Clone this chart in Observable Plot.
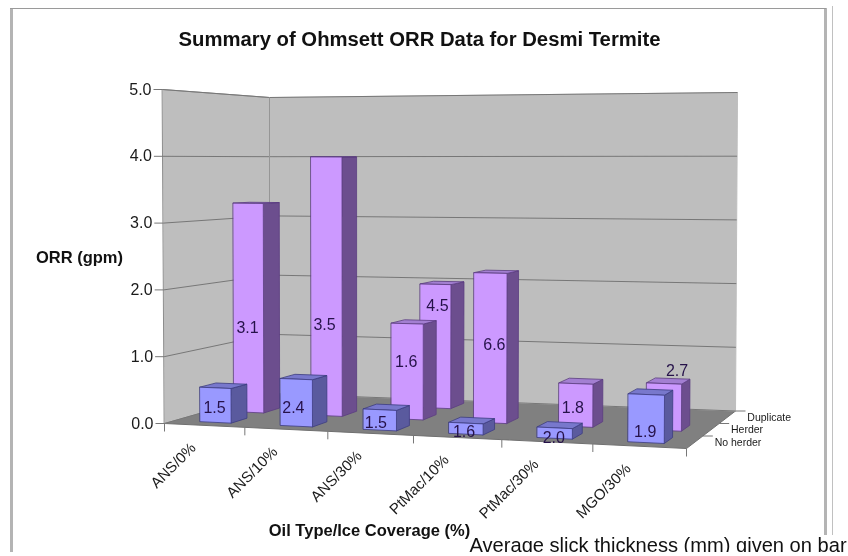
<!DOCTYPE html>
<html><head><meta charset="utf-8">
<style>html,body{margin:0;padding:0;background:#fff}svg{display:block}</style>
<script src="https://cdn.jsdelivr.net/npm/d3@7"></script>
<script src="https://cdn.jsdelivr.net/npm/@observablehq/plot@0.6"></script>
</head><body><div id="chart"></div>
<script>
// ---- data ----
const categories = ["ANS/0%", "ANS/10%", "ANS/30%", "PtMac/10%", "PtMac/30%", "MGO/30%"];
const seriesNames = ["No herder", "Herder", "Duplicate"];
const noHerder = [0.52, 0.70, 0.30, 0.16, 0.15, 0.68];
const herder = [3.27, 4.0, 1.46, 2.26, 0.64, 0.69];
const duplicate = [null, null, 1.97, null, null, null];
const thicknessNoHerder = ["1.5", "2.4", "1.5", "1.6", "2.0", "1.9"];
const thicknessHerder = ["3.1", "3.5", "1.6", "6.6", "1.8", "2.7"];
const thicknessDuplicate = [null, null, "4.5", null, null, null];
const yTicks = [0, 1, 2, 3, 4, 5];

// ---- layout of the perspective box (corners of floor and ceiling in page units) ----
const floorC = {FL:[164,423], FR:[686,448], BL:[269,393], BR:[735,410.5]};
const topC   = {FL:[162,89],  FR:[688,88],  BL:[269,97],  BR:[737,92]};
const zMax = 5, warp = 0.908;
const barU = [0.32, 0.71];
const rowD = [[0.10,0.26],[0.43,0.59],[0.77,0.93]];
const palette = [
  {front:"#9999ff", side:"#5a5a9e", top:"#7878cc", edge:"#3c3c80"},
  {front:"#cc99ff", side:"#6c4e8e", top:"#a37fd2", edge:"#5a3c80"},
  {front:"#cc99ff", side:"#6c4e8e", top:"#a37fd2", edge:"#5a3c80"}
];
// label nudges [dx, dy] by series-category
const nudge = {
  "0-0":[-1,3],"0-1":[-3,5],"0-2":[-4,3],"0-3":[-2,3],"0-4":[-1,5],"0-5":[-1,13],
  "1-0":[-1,20],"1-1":[-2,39],"1-2":[-1,-10],"1-3":[4,-3],"1-4":[-3,3],"1-5":[13,-36],
  "2-2":[2,-40]
};

const lerp = (a, b, t) => a + (b - a) * t;
const lerp2 = (a, b, t) => [lerp(a[0], b[0], t), lerp(a[1], b[1], t)];
function project(u, d, z) {
  const w = u * (warp + (1 - warp) * u);
  const q = c => lerp2(lerp2(c.FL, c.FR, w), lerp2(c.BL, c.BR, w), d);
  return lerp2(q(floorC), q(topC), z / zMax);
}
const n = categories.length;
const slot = (i, f) => (i + f) / n;

// ---- build polygons from the data ----
const faces = [];
function face(id, fill, stroke, corners) {
  corners.forEach(p => faces.push({id, fill, stroke, x: p[0], y: p[1]}));
}
face("floor", "#808080", "#707070", [project(0,0,0), project(1,0,0), project(1,1,0), project(0,1,0)]);
face("wallL", "#bebebe", "#8c8c8c", [project(0,0,0), project(0,1,0), project(0,1,zMax), project(0,0,zMax)]);
face("wallB", "#bebebe", "#bebebe", [project(0,1,0), project(1,1,0), project(1,1,zMax), project(0,1,zMax)]);

const grid = [];
yTicks.forEach(v => {
  [[0,0,0,1],[0,1,1,1]].forEach(([u1,d1,u2,d2]) => {
    const a = project(u1,d1,v), b = project(u2,d2,v);
    grid.push({x1:a[0], y1:a[1], x2:b[0], y2:b[1]});
  });
});
const cornerA = project(0,1,0), cornerB = project(0,1,zMax);

const seriesValues = [noHerder, herder, duplicate];
const seriesLabels = [thicknessNoHerder, thicknessHerder, thicknessDuplicate];
const labels = [];
[2,1,0].forEach(s => {
  seriesValues[s].forEach((v, i) => {
    if (v == null) return;
    const u0 = slot(i, barU[0]), u1 = slot(i, barU[1]);
    const [d0, d1] = rowD[s], c = palette[s], id = `b${s}-${i}-`;
    face(id+"r", c.side, c.edge, [project(u1,d0,0), project(u1,d1,0), project(u1,d1,v), project(u1,d0,v)]);
    face(id+"t", c.top, c.edge, [project(u0,d0,v), project(u1,d0,v), project(u1,d1,v), project(u0,d1,v)]);
    face(id+"f", c.front, c.edge, [project(u0,d0,0), project(u1,d0,0), project(u1,d0,v), project(u0,d0,v)]);
    const m = project(slot(i,(barU[0]+barU[1])/2), d0, v/2), nd = nudge[`${s}-${i}`];
    labels.push({x:m[0]+nd[0], y:m[1]+nd[1], text:seriesLabels[s][i]});
  });
});

const yTickData = yTicks.map(v => { const p = project(0,0,v); return {x:p[0], y:p[1], v}; });
const xTickData = d3.range(n+1).map(i => { const p = project(i/n,0,0); return {x:p[0], y:p[1]}; });
const catData = categories.map((c,i) => { const p = project((i+.5)/n,0,0); return {x:p[0]-11, y:p[1]+20, c}; });
const depthTicks = d3.range(1,4).map(i => { const p = project(1,i/3,0); return {x:p[0], y:p[1]}; });
const depthData = seriesNames.map((s,i) => { const p = project(1,(i+.5)/3,0); return {x:p[0]+20, y:p[1], s}; });

const F = "Liberation Sans";
const T = "#1a1a1a";
const plot = Plot.plot({
  width:848, height:556, margin:0,
  x:{domain:[0,848], range:[0,848], axis:null},
  y:{domain:[0,556], range:[0,556], axis:null},
  color:{type:"identity"},
  style:{background:"#fff", fontFamily:F, filter:"blur(0.4px)"},
  marks:[
    Plot.ruleX([11], {y1:8, y2:556, stroke:"#b4b4b4", strokeWidth:3}),
    Plot.ruleX([825], {y1:8, y2:535, stroke:"#b4b4b4", strokeWidth:3}),
    Plot.ruleX([832], {y1:6, y2:535, stroke:"#c0c0c0", strokeWidth:1}),
    Plot.ruleY([8], {x1:10, x2:826, stroke:"#9a9a9a", strokeWidth:1}),
    Plot.line(faces.slice(0,12), {x:"x", y:"y", z:"id", fill:"fill", stroke:"stroke", strokeWidth:1, curve:"linear-closed"}),
    Plot.link(grid, {x1:"x1", y1:"y1", x2:"x2", y2:"y2", stroke:"#777", strokeWidth:1}),
    Plot.link([{}], {x1:()=>cornerA[0], y1:()=>cornerA[1], x2:()=>cornerB[0], y2:()=>cornerB[1], stroke:"#969696", strokeWidth:1}),
    Plot.line(faces.slice(12), {x:"x", y:"y", z:"id", fill:"fill", stroke:"stroke", strokeWidth:0.8, curve:"linear-closed"}),
    Plot.link(xTickData, {x1:"x", x2:"x", y1:"y", y2:d=>d.y+8, stroke:"#777"}),
    Plot.link(yTickData, {x1:d=>d.x-9, x2:"x", y1:"y", y2:"y", stroke:"#777"}),
    Plot.link(depthTicks, {x1:"x", x2:d=>d.x+10, y1:"y", y2:"y", stroke:"#777"}),
    Plot.text(yTickData, {x:d=>d.x-11, y:"y", text:d=>d.v.toFixed(1), textAnchor:"end", fontSize:16, fill:T}),
    Plot.text(catData, {x:"x", y:"y", text:"c", rotate:-45, textAnchor:"end", fontSize:15, fill:T}),
    Plot.text(depthData, {x:"x", y:"y", text:"s", textAnchor:"start", fontSize:10.5, fill:T}),
    Plot.text(labels, {x:"x", y:"y", text:"text", fontSize:16, fill:"#26124a"}),
    Plot.text(["Summary of Ohmsett ORR Data for Desmi Termite"], {x:()=>419, y:()=>39, text:d=>d, fontSize:20.3, fontWeight:"bold", fill:"#111"}),
    Plot.text(["ORR (gpm)"], {x:()=>79, y:()=>257, text:d=>d, fontSize:16.5, fontWeight:"bold", fill:"#111"}),
    Plot.text(["Oil Type/Ice Coverage (%)"], {x:()=>369, y:()=>530, text:d=>d, fontSize:16.5, fontWeight:"bold", fill:"#111"}),
    Plot.text(["Average slick thickness (mm) given on bar"], {x:()=>469, y:()=>545, text:d=>d, textAnchor:"start", fontSize:20.1, fill:"#111"}),
    Plot.rect([{}], {x1:()=>0, x2:()=>848, y1:()=>552, y2:()=>556, fill:"#fff"})
  ]
});
document.getElementById("chart").appendChild(plot);
</script></body></html>
